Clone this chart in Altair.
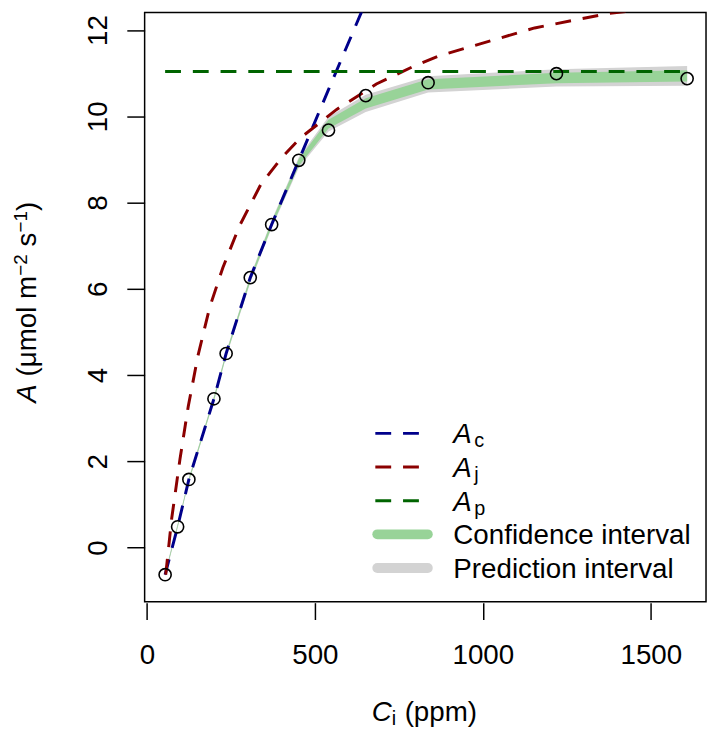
import altair as alt
import pandas as pd

# ---- data ----
ci_obs = [54.2, 91.4, 124.9, 199.5, 235.8, 307.6, 371.3, 452.0, 540.5, 651.3, 837.0, 1219.0, 1608.0]
a_obs = [-0.63, 0.48, 1.58, 3.45, 4.50, 6.26, 7.49, 8.98, 9.68, 10.48, 10.78, 10.99, 10.875]
a_fit = [-0.62, 0.50, 1.57, 3.45, 4.48, 6.22, 7.50, 8.93, 9.82, 10.30, 10.74, 10.89, 10.94]
conf_half = [0.03, 0.03, 0.03, 0.04, 0.04, 0.05, 0.06, 0.08, 0.10, 0.12, 0.12, 0.12, 0.13]
pred_half = [0.05, 0.05, 0.05, 0.06, 0.06, 0.08, 0.09, 0.12, 0.17, 0.20, 0.19, 0.20, 0.23]

ac_ci = [54.2, 91.4, 124.9, 199.5, 235.8, 307.6, 371.3, 452.0, 540.5, 651.3]
ac = [-0.63, 0.48, 1.58, 3.45, 4.50, 6.26, 7.49, 8.98, 10.62, 12.65]
aj_ci = [56.0, 73.7, 98.4, 123.0, 152.0, 186.8, 226.0, 275.0, 339.0, 400.0, 457.0, 565.0,
         683.0, 791.0, 869.0, 1154.0, 1370.0, 1608.0]
aj = [-0.63, 0.67, 2.05, 3.27, 4.45, 5.57, 6.49, 7.45, 8.42, 9.03, 9.50, 10.16,
      10.75, 11.15, 11.40, 12.05, 12.38, 12.60]
ap_ci = [54.2, 1608.0]
ap = [11.04, 11.04]

x_ticks = [0, 500, 1000, 1500]
y_ticks = [0, 2, 4, 6, 8, 10, 12]

FONT = "Liberation Sans"
C_BLUE, C_RED, C_GREEN = "#00008B", "#8B0000", "#006400"
C_CONF, C_PRED = "#98D398", "#D3D3D3"
DASH = [16, 12]
SP = 7.8  # width of a space at 28px

W, H = 567, 595
OX, OY = 146, 9  # page position of the plot area

band = pd.DataFrame({
    "ci": ci_obs, "fit": a_fit,
    "clo": [f - h for f, h in zip(a_fit, conf_half)],
    "chi": [f + h for f, h in zip(a_fit, conf_half)],
    "plo": [f - h for f, h in zip(a_fit, pred_half)],
    "phi": [f + h for f, h in zip(a_fit, pred_half)],
})
obs = pd.DataFrame({"ci": ci_obs, "a": a_obs})
df_ac = pd.DataFrame({"ci": ac_ci, "a": ac})
df_aj = pd.DataFrame({"ci": aj_ci, "a": aj})
df_ap = pd.DataFrame({"ci": ap_ci, "a": ap})

xs = alt.Scale(domain=[-6.78, 1664.2], nice=False, zero=False)
ys = alt.Scale(domain=[-1.256, 12.406], nice=False, zero=False)

xaxis = alt.Axis(values=x_ticks, title=None, grid=False, domain=False, format="d",
                 tickSize=17, tickWidth=1.5, tickColor="black", offset=1,
                 labelFont=FONT, labelFontSize=28, labelColor="black",
                 labelPadding=22, labelFlush=False, labelOverlap=False)
yaxis = alt.Axis(values=y_ticks, title=None, grid=False, domain=False, format="d",
                 tickSize=18, tickWidth=1.5, tickColor="black",
                 labelFont=FONT, labelFontSize=28, labelColor="black",
                 labelAngle=270, labelAlign="center", labelBaseline="alphabetic",
                 labelPadding=21, labelFlush=False, labelOverlap=False)


def X(f):
    return alt.X(f, type="quantitative", scale=xs, axis=xaxis)


def Y(f):
    return alt.Y(f, type="quantitative", scale=ys, axis=yaxis)


pred = alt.Chart(band).mark_area(color=C_PRED, opacity=1).encode(
    x=X("ci"), y=Y("plo"), y2="phi")
conf = alt.Chart(band).mark_area(color=C_CONF, opacity=1).encode(
    x=X("ci"), y=Y("clo"), y2="chi")
l_ac = alt.Chart(df_ac).mark_line(color=C_BLUE, strokeWidth=3, strokeDash=DASH, clip=True).encode(
    x=X("ci"), y=Y("a"))
l_aj = alt.Chart(df_aj).mark_line(color=C_RED, strokeWidth=3, strokeDash=DASH, clip=True).encode(
    x=X("ci"), y=Y("a"))
l_ap = alt.Chart(df_ap).mark_line(color=C_GREEN, strokeWidth=3, strokeDash=DASH, clip=True).encode(
    x=X("ci"), y=Y("a"))
pts = alt.Chart(obs).mark_point(shape="circle", filled=False, size=150, stroke="black",
                                strokeWidth=1.6, opacity=1).encode(x=X("ci"), y=Y("a"))

ONE = alt.Data(values=[{"k": 1}])


def txt(s, px, py, size=28, style="normal", angle=0, align="left"):
    return alt.Chart(ONE).mark_text(
        text=s, font=FONT, fontSize=size, fontStyle=style, angle=angle,
        align=align, baseline="alphabetic", color="black"
    ).encode(x=alt.value(px - OX), y=alt.value(py - OY))


def seg(x1, x2, py, color, width, dash=None, cap="butt"):
    kw = dict(color=color, strokeWidth=width, strokeCap=cap)
    if dash:
        kw["strokeDash"] = dash
    return alt.Chart(ONE).mark_rule(**kw).encode(
        x=alt.value(x1 - OX), x2=alt.value(x2 - OX), y=alt.value(py - OY))


ann = []
# x title: C_i (ppm)
ann += [txt("C", 375.3, 724, style="italic"), txt("i", 395.5, 729, size=20),
        txt("(ppm)", 400.8 + SP, 724)]
# y title: A (μmol m^-2 s^-1), rotated (reads bottom to top)
YB, YS = 36, 27  # baseline x of main text and of superscripts
ann += [txt("A", YB, 403, style="italic", angle=270),
        txt("(μmol m", YB, 384.3 - SP, angle=270),
        txt("−2", YS, 274.8, size=19, angle=270),
        txt("s", YB, 253.0 - SP, angle=270),
        txt("−1", YS, 231.2, size=19, angle=270),
        txt(")", YB, 209.4, angle=270)]
# legend
B = [444, 478, 512, 546, 580]
for k, (col, sub) in enumerate([(C_BLUE, "c"), (C_RED, "j"), (C_GREEN, "p")]):
    ann += [seg(379, 434, B[k] - 10, col, 3, dash=DASH),
            txt("A", 457.8, B[k], style="italic"),
            txt(sub, 479, B[k] + 4, size=20)]
ann += [seg(381, 432, B[3] - 10, C_CONF, 10, cap="round"),
        txt("Confidence interval", 457.8, B[3]),
        seg(381, 432, B[4] - 10, C_PRED, 10, cap="round"),
        txt("Prediction interval", 457.8, B[4])]

chart = alt.layer(pred, conf, l_ac, l_aj, l_ap, pts, *ann).properties(
    width=W, height=H,
    padding={"left": 138, "top": 1, "right": 2, "bottom": 131},
    autosize=alt.AutoSizeParams(type="none"),
).configure_view(stroke="black", strokeWidth=1.5)

chart.save("out.html", embed_options={"renderer": "svg", "actions": False})
